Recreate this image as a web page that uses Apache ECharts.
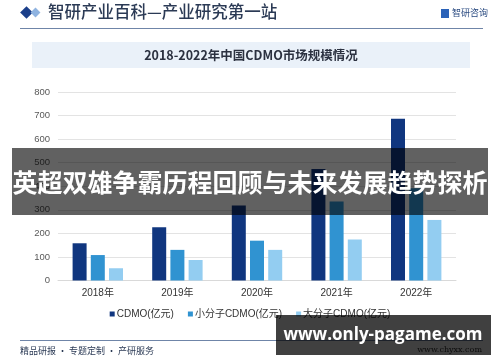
<!DOCTYPE html>
<html><head><meta charset="utf-8">
<script src="https://cdn.jsdelivr.net/npm/echarts@6/dist/echarts.min.js"></script>
<style>html,body{margin:0;padding:0;background:#fff}#c{width:500px;height:362px}</style>
</head><body><div id="c"></div>
<script>
const categories = ['2018年','2019年','2020年','2021年','2022年'];
const seriesNames = ['CDMO(亿元)','小分子CDMO(亿元)','大分子CDMO(亿元)'];
const cdmo = [158, 226, 318, 473, 687];
const smallMolecule = [108, 130, 169, 335, 392];
const largeMolecule = [52, 87, 130, 174, 257];
const yTicks = [0, 100, 200, 300, 400, 500, 600, 700, 800];

const F = "'Liberation Sans', 'Noto Sans CJK SC', sans-serif";
const colors = ['#10367f', '#3093d1', '#93cdf1'];
const chart = echarts.init(document.getElementById('c'), null, {renderer:'canvas'});
chart.setOption({
  animation:false,
  textStyle:{fontFamily:F},
  grid:{left:58, right:44, top:92, bottom:81.5},
  legend:{
    top:304, left:'center', itemWidth:5, itemHeight:5, itemGap:14,
    icon:'rect', textStyle:{fontSize:10, color:'#333', fontFamily:F, padding:[0,0,0,-3]},
    data: seriesNames
  },
  xAxis:{type:'category', data:categories,
    axisLine:{lineStyle:{color:'#d9d9d9'}}, axisTick:{show:false},
    axisLabel:{fontSize:10, color:'#333', margin:8}},
  yAxis:{type:'value', min:yTicks[0], max:yTicks[yTicks.length-1], interval:100,
    axisLine:{show:false}, axisTick:{show:false},
    axisLabel:{fontSize:9.5, color:'#595959', margin:8},
    splitLine:{lineStyle:{color:'#e3e3e3'}}},
  series:[
    {name:seriesNames[0], type:'bar', data:cdmo, barWidth:14, barGap:'30%', itemStyle:{color:colors[0]}},
    {name:seriesNames[1], type:'bar', data:smallMolecule, barWidth:14, barGap:'30%', itemStyle:{color:colors[1]}},
    {name:seriesNames[2], type:'bar', data:largeMolecule, barWidth:14, barGap:'30%', itemStyle:{color:colors[2]}}
  ],
  graphic:[
    {type:'rect', shape:{x:22,y:8,width:9,height:9}, rotation:Math.PI/4, originX:26.5, originY:12.5, style:{fill:'#1b3f8a'}, z:10},
    {type:'rect', shape:{x:32,y:9,width:7,height:7}, rotation:Math.PI/4, originX:35.5, originY:12.5, style:{fill:'#8fb3e0'}, z:10},
    {type:'text', left:48, top:3, style:{text:'智研产业百科—产业研究第一站', font:"500 16.5px 'Noto Sans CJK SC', serif", fill:'#2b3a55'}, z:10},
    {type:'rect', shape:{x:441,y:9,width:8,height:9}, style:{fill:'#2a62b8'}, z:10},
    {type:'text', left:452, top:8, style:{text:'智研咨询', font:"9px 'Noto Sans CJK SC'", fill:'#2a4a80'}, z:10},
    {type:'line', shape:{x1:20,y1:28.5,x2:483,y2:28.5}, style:{stroke:'#6f85a8', lineWidth:1}, z:10},
    {type:'rect', shape:{x:32,y:42,width:438,height:26}, style:{fill:'#eaf1f9'}, z:1},
    {type:'text', x:251, y:55.5, style:{text:'2018-2022年中国CDMO市场规模情况', font:"bold 12.5px 'Noto Sans CJK SC'", fill:'#2b3140', align:'center', verticalAlign:'middle'}, z:10},
    {type:'line', shape:{x1:20,y1:340.5,x2:483,y2:340.5}, style:{stroke:'#6f85a8', lineWidth:1}, z:10},
    {type:'text', left:20, top:346, style:{text:'精品研报 · 专题定制 · 产研服务', font:"9px 'Noto Sans CJK SC'", fill:'#2b3a55'}, z:10},
    {type:'text', right:18, top:346, style:{text:'www.chyxx.com', font:"8px 'DejaVu Serif'", fill:'#333'}, z:10},
    {type:'rect', shape:{x:12,y:148,width:476,height:67}, style:{fill:'rgba(0,0,0,0.62)'}, z:100},
    {type:'text', x:250, y:182, style:{text:'英超双雄争霸历程回顾与未来发展趋势探析', font:"bold 25px 'Noto Sans CJK SC'", fill:'#ffffff', align:'center', verticalAlign:'middle'}, z:101},
    {type:'rect', shape:{x:276,y:315,width:215,height:40}, style:{fill:'rgba(0,0,0,0.75)'}, z:100},
    {type:'text', x:383, y:335, style:{text:'www.only-pagame.com', font:"bold 17px 'Open Sans','DejaVu Sans', sans-serif", fill:'#ffffff', align:'center', verticalAlign:'middle'}, z:101}
  ]
});
</script></body></html>
